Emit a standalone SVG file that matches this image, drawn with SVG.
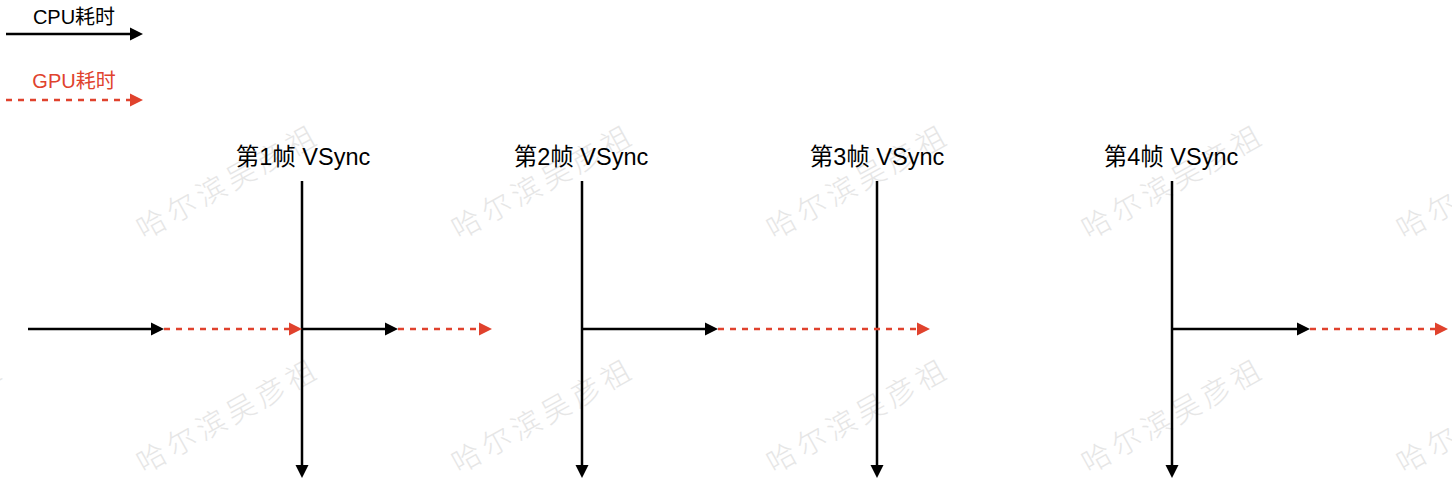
<svg xmlns="http://www.w3.org/2000/svg" width="1452" height="485" viewBox="0 0 1452 485">
  <style>
    .lbl { font-family: "Liberation Sans", "Noto Sans CJK SC", sans-serif; text-anchor: middle; }
    .frame { font-size: 23.5px; fill: #000; }
    .leg { font-size: 20px; }
    .cpu { stroke: #000; stroke-width: 2.5; fill: none; marker-end: url(#ab); }
    .gpu { stroke: #e0422d; stroke-width: 2.5; fill: none; stroke-dasharray: 6 6; marker-end: url(#ar); }
    .wm { font-family: "Noto Sans CJK SC", sans-serif; font-weight: 300; font-size: 29px; fill: #e6e6e6; letter-spacing: 5px; }
  </style>
  <defs>
    <marker id="ab" markerUnits="userSpaceOnUse" markerWidth="13" markerHeight="13" refX="0" refY="6.5" orient="auto" overflow="visible">
      <path d="M0,0 L13,6.5 L0,13 z" fill="#000"/>
    </marker>
    <marker id="ar" markerUnits="userSpaceOnUse" markerWidth="13" markerHeight="13" refX="0" refY="6.5" orient="auto" overflow="visible">
      <path d="M0,0 L13,6.5 L0,13 z" fill="#e0422d"/>
    </marker>
  </defs>
  <rect width="1452" height="485" fill="#fff"/>

  <g id="watermarks">
    <text class="wm" transform="translate(144,240) rotate(-29)">哈尔滨吴彦祖</text>
    <text class="wm" transform="translate(459,240) rotate(-29)">哈尔滨吴彦祖</text>
    <text class="wm" transform="translate(774,240) rotate(-29)">哈尔滨吴彦祖</text>
    <text class="wm" transform="translate(1089,240) rotate(-29)">哈尔滨吴彦祖</text>
    <text class="wm" transform="translate(1404,240) rotate(-29)">哈尔滨吴彦祖</text>
    <text class="wm" transform="translate(-171,474) rotate(-29)">哈尔滨吴彦祖</text>
    <text class="wm" transform="translate(144,474) rotate(-29)">哈尔滨吴彦祖</text>
    <text class="wm" transform="translate(459,474) rotate(-29)">哈尔滨吴彦祖</text>
    <text class="wm" transform="translate(774,474) rotate(-29)">哈尔滨吴彦祖</text>
    <text class="wm" transform="translate(1089,474) rotate(-29)">哈尔滨吴彦祖</text>
    <text class="wm" transform="translate(1404,474) rotate(-29)">哈尔滨吴彦祖</text>
  </g>

  <g id="legend-cpu">
    <text class="lbl leg" x="74" y="23.5" fill="#000">CPU耗时</text>
    <line class="cpu" x1="6" y1="34" x2="130" y2="34"/>
  </g>
  <g id="legend-gpu">
    <text class="lbl leg" x="74" y="87.5" fill="#e0422d">GPU耗时</text>
    <line class="gpu" x1="6" y1="100" x2="130" y2="100"/>
  </g>

  <g id="vsync1">
    <text class="lbl frame" x="303" y="165">第1帧 VSync</text>
  </g>
  <g id="vsync2">
    <text class="lbl frame" x="581" y="165">第2帧 VSync</text>
  </g>
  <g id="vsync3">
    <text class="lbl frame" x="877" y="165">第3帧 VSync</text>
  </g>
  <g id="vsync4">
    <text class="lbl frame" x="1171" y="165">第4帧 VSync</text>
  </g>

  <g id="connectors">
    <line class="cpu" x1="302" y1="181" x2="302" y2="465"/>
    <line class="cpu" x1="582" y1="181" x2="582" y2="465"/>
    <line class="cpu" x1="877" y1="181" x2="877" y2="465"/>
    <line class="cpu" x1="1172" y1="181" x2="1172" y2="465"/>

    <line class="cpu" x1="28" y1="329" x2="151" y2="329"/>
    <line class="gpu" x1="164" y1="329" x2="289" y2="329"/>
    <line class="cpu" x1="303" y1="329" x2="385" y2="329"/>
    <line class="gpu" x1="398" y1="329" x2="479" y2="329"/>
    <line class="cpu" x1="582" y1="329" x2="705" y2="329"/>
    <line class="gpu" x1="718" y1="329" x2="917" y2="329"/>
    <line class="cpu" x1="1172" y1="329" x2="1297" y2="329"/>
    <line class="gpu" x1="1310" y1="329" x2="1435" y2="329"/>
  </g>
</svg>
